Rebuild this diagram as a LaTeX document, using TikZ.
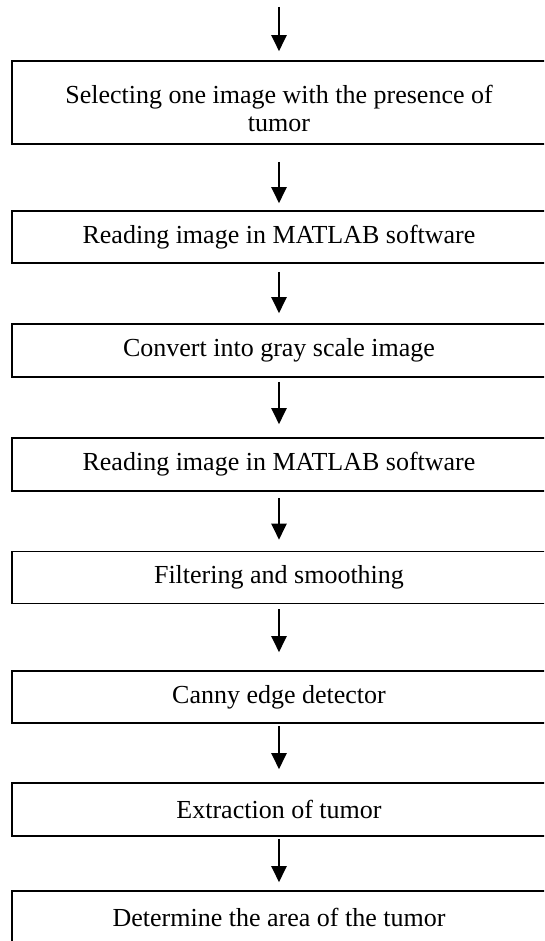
\documentclass[tikz,border=0pt]{standalone}
\usepackage{fontspec}
\setmainfont{Liberation Serif}
\usetikzlibrary{arrows.meta}

\begin{document}
\begin{tikzpicture}[x=1pt,y=-1pt,
  stage/.style={draw, line width=1.6pt, minimum width=534pt, minimum height=53pt,
    inner sep=0pt, align=center, font=\fontsize{26}{28}\selectfont},
  flow/.style={-{Triangle[length=16pt,width=15pt]}, line width=2.2pt}]
  \useasboundingbox (0,0) rectangle (544,941);
  \clip (0,0) rectangle (544,941);
  \coordinate (start) at (279,7);
  \node[stage, minimum height=83pt] (select) at (279,102.5) {\rule{0pt}{30pt}Selecting one image with the presence of\\tumor};
  \node[stage, minimum height=52pt] (readA) at (279,237) {Reading image in MATLAB software};
  \node[stage] (gray) at (279,350.5) {Convert into gray scale image};
  \node[stage] (readB) at (279,464.5) {Reading image in MATLAB software};
  \node[stage, minimum height=52pt] (filter) at (279,577.5) {Filtering and smoothing};
  \node[stage, minimum height=52pt] (canny) at (279,697) {Canny edge detector};
  \node[stage] (extract) at (279,809.5) {Extraction of tumor};
  \node[stage] (area) at (279,917.5) {Determine the area of the tumor};
  \draw[flow, shorten >=9pt] (start) -- (select);
  \draw[flow, shorten <=17pt, shorten >=7pt] (select) -- (readA);
  \draw[flow, shorten <=8pt, shorten >=10pt] (readA) -- (gray);
  \draw[flow, shorten <=4pt, shorten >=13pt] (gray) -- (readB);
  \draw[flow, shorten <=6pt, shorten >=11pt] (readB) -- (filter);
  \draw[flow, shorten <=5pt, shorten >=18pt] (filter) -- (canny);
  \draw[flow, shorten <=2pt, shorten >=13pt] (canny) -- (extract);
  \draw[flow, shorten <=2pt, shorten >=8pt] (extract) -- (area);
\end{tikzpicture}
\end{document}
